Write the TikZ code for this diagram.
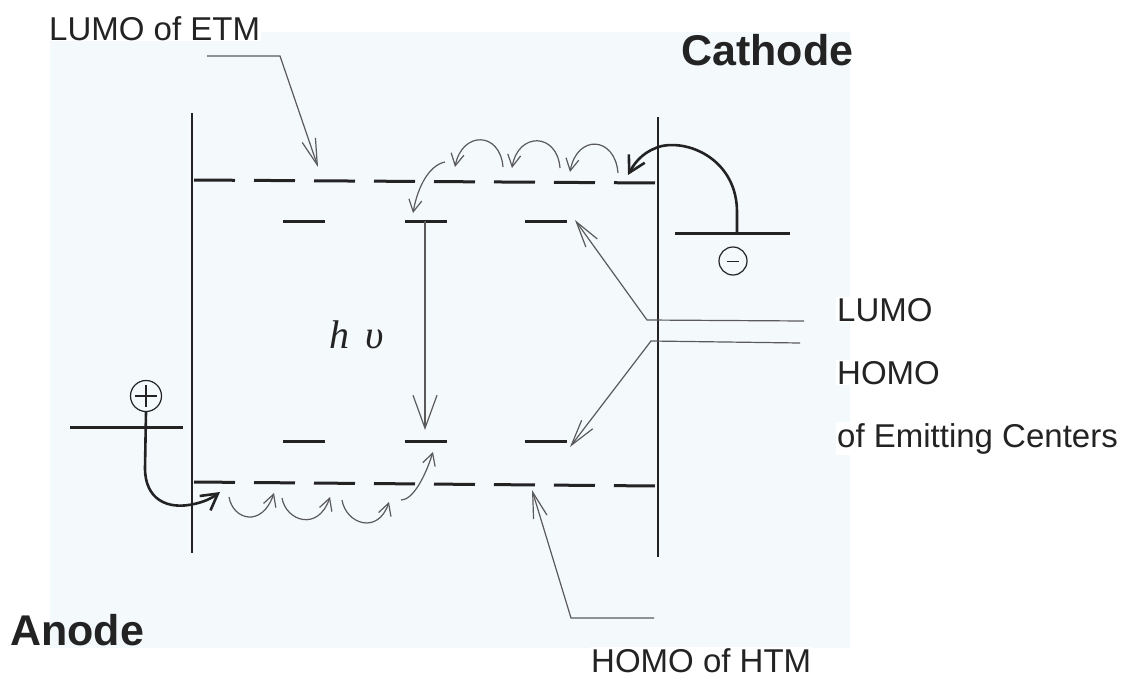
\documentclass[tikz,border=0pt]{standalone}
\usepackage{fontspec}
\setmainfont{Liberation Sans}
\newfontfamily\greekfont{Liberation Serif}
\usetikzlibrary{arrows.meta}
\definecolor{paperBlue}{RGB}{244,249,252}
\definecolor{inkGray}{RGB}{35,35,35}

\begin{document}
\begin{tikzpicture}[x=1pt, y=-1pt,
    electrode/.style={line width=2.8pt, inkGray},
    level/.style={line width=3pt, inkGray},
    band/.style={level, dash pattern=on 41pt off 19pt},
    pointer/.style={line width=1.2pt, inkGray!75, -{Straight Barb[length=26pt,width=14pt,line width=1.2pt]}},
    hop/.style={line width=1.2pt, inkGray!75, -{Straight Barb[length=12pt,width=13pt,line width=1.2pt]}},
    carrier/.style={line width=2.6pt, inkGray, -{Straight Barb[length=16pt,width=18pt,line width=2.6pt]}},
    label/.style={anchor=base west, inner sep=1pt, fill=white, text=inkGray, font=\fontsize{33}{38}\selectfont},
    side/.style={anchor=base west, inner sep=1pt, text=inkGray, font=\fontsize{43}{48}\selectfont\bfseries},
    charge/.style={circle, draw=inkGray, line width=1.2pt, minimum size=28pt, inner sep=0pt}
]
\useasboundingbox (0,0) rectangle (1137,680);
\fill[paperBlue] (50,32) rectangle (850,648);

\node[label] (etm) at (48,40) {LUMO of ETM};
\node[side] (cathode) at (680,65) {Cathode};
\node[side] (anode) at (9,645) {Anode};
\node[label] (htm) at (590,672) {HOMO of HTM};
\node[label] (lumo) at (836,321) {LUMO};
\node[label] (homo) at (836,384) {HOMO};
\node[label] (centers) at (836,447) {of Emitting Centers};
\node[anchor=base west, inner sep=0pt, text=inkGray, font=\fontsize{40}{44}\selectfont\greekfont\itshape] (hnu) at (329,348) {h\hspace{0.4em}υ};

\draw[electrode] (192,113) -- (192,553);
\draw[electrode] (658,117) -- (658,557);
\draw[band] (194,180) -- (656,183);
\draw[band] (194,482) -- (656,486);

\coordinate (lumoA) at (304,221);
\coordinate (lumoB) at (426,221);
\coordinate (lumoC) at (546,221);
\coordinate (homoA) at (304,441);
\coordinate (homoB) at (426,441);
\coordinate (homoC) at (546,441);
\foreach \c in {lumoA,lumoB,lumoC,homoA,homoB,homoC}
  \draw[level] ([xshift=-21pt]\c) -- ([xshift=21pt]\c);

\draw[line width=1.2pt, inkGray!75, -{Straight Barb[length=33pt,width=24pt,line width=1.2pt]}] ([xshift=-1pt]lumoB) -- ([xshift=-1pt,yshift=11pt]homoB);

\draw[level] (675,233) -- (790,233);
\draw[level] (70,427) -- (183,427);
\node[charge] (minus) at (733,261) {};
\draw[line width=1pt, inkGray] ([xshift=-6pt]minus.center) -- ([xshift=6pt]minus.center);
\node[charge, minimum size=31pt] (plus) at (146,396) {};
\draw[line width=1.2pt, inkGray] ([xshift=-11pt]plus.center) -- ([xshift=11pt]plus.center);
\draw[line width=1.2pt, inkGray] ([yshift=-11pt]plus.center) -- ([yshift=11pt]plus.center);

\coordinate (eStart) at (737,233);
\coordinate (eEnd) at (628,175);
\draw[carrier] (eStart) -- (737,212) .. controls (737,162) and (692,140) .. (662,146) .. controls (646,150) and (636,160) .. (eEnd);
\coordinate (hEnd) at (220,492);
\draw[carrier] (plus.south) -- (145,468) .. controls (145,500) and (168,510) .. (194,504) .. controls (204,502) and (212,498) .. (hEnd);

\draw[hop] (618,173) .. controls (615,136) and (577,134) .. (570,172);
\draw[hop] (560,168) .. controls (557,132) and (518,132) .. (512,168);
\draw[hop] (503,167) .. controls (500,131) and (462,131) .. (455,167);
\draw[hop] (445,162) .. controls (430,165) and (418,185) .. ([xshift=-13pt,yshift=8pt]lumoB);

\draw[hop] (229,497) .. controls (233,520) and (262,528) .. (274,493);
\draw[hop] (282,498) .. controls (286,521) and (318,532) .. (330,497);
\draw[hop] (342,500) .. controls (346,524) and (378,535) .. (389,502);
\draw[hop] (401,500) .. controls (412,500) and (424,480) .. ([xshift=7pt,yshift=-11pt]homoB);

\coordinate (etmFoot) at (207,56);
\coordinate (etmTip) at (318,167);
\draw[pointer] (etmFoot) -- (280,56) -- (etmTip);
\coordinate (lumoFoot) at (804,321);
\draw[pointer] (lumoFoot) -- (647,320) -- ([xshift=29pt,yshift=1pt]lumoC);
\coordinate (homoFoot) at (800,343);
\draw[pointer] (homoFoot) -- (651,341) -- ([xshift=24pt,yshift=-6pt]homoC);
\coordinate (htmFoot) at (654,618);
\coordinate (htmTip) at (532,490);
\draw[pointer] (htmFoot) -- (571,618) -- (htmTip);
\end{tikzpicture}
\end{document}
